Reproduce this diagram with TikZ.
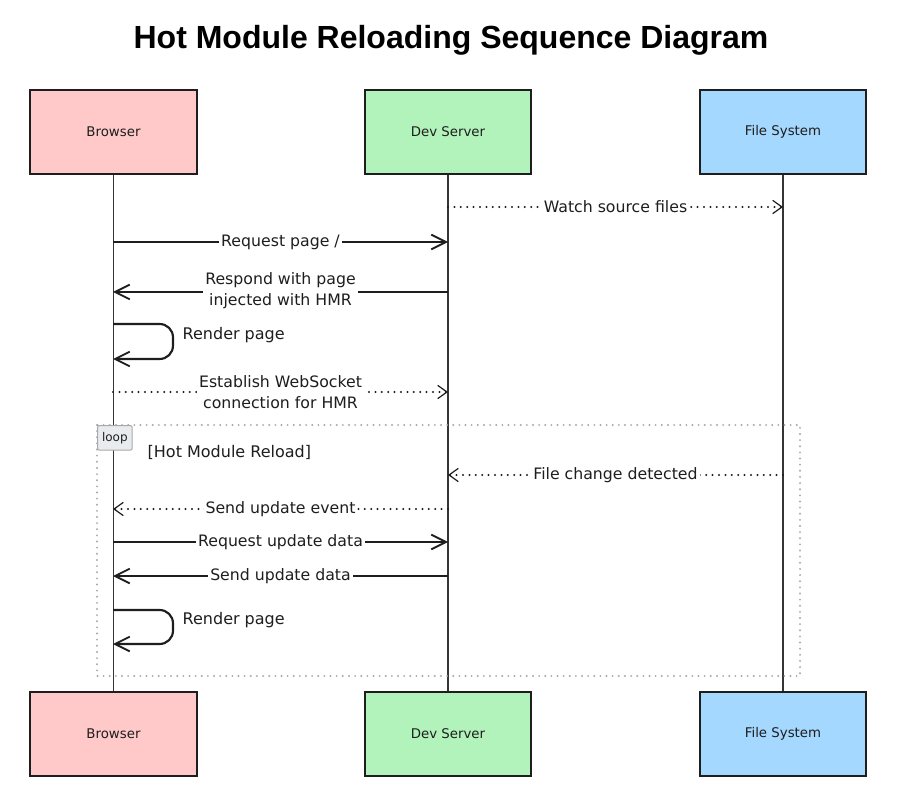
\documentclass[tikz,border=0pt]{standalone}
\usepackage{fontspec}
\setmainfont{DejaVu Sans}
\newfontfamily\titlefont{Liberation Sans}
\usetikzlibrary{arrows.meta}
\definecolor{pinkfill}{HTML}{FFC9C9}
\definecolor{greenfill}{HTML}{B2F2BB}
\definecolor{bluefill}{HTML}{A5D8FF}
\definecolor{inkc}{HTML}{1E1E1E}
\definecolor{loopgray}{HTML}{A9A9A9}
\definecolor{tagfill}{HTML}{E9ECEF}
\tikzset{
  actor/.style={draw=inkc, line width=1.4pt, minimum width=125pt, minimum height=63pt,
    font=\fontsize{10}{12}\selectfont, text=inkc},
  lifeline/.style={draw=inkc!90, line width=1.2pt},
  msgsolid/.style={draw=inkc, line width=1.6pt, -{Straight Barb[length=11pt,width=11pt,line width=1.4pt]}},
  msgdot/.style={draw=inkc, line width=1.7pt, line cap=round, dash pattern=on 0pt off 4.8pt,
    -{Straight Barb[length=7pt,width=10pt,line width=0.9pt]}},
  msglabel/.style={fill=white, inner sep=1.5pt, text=inkc, align=center,
    font=\fontsize{11.8}{15.5}\selectfont},
  selfloop/.style={draw=inkc, line width=1.6pt, rounded corners=10pt,
    -{Straight Barb[length=11pt,width=11pt,line width=1.4pt]}},
  looplabel/.style={text=inkc, font=\fontsize{12}{14}\selectfont, anchor=west},
  loopframe/.style={draw=loopgray, line width=1.6pt, line cap=round, dash pattern=on 0pt off 4.6pt},
  looptag/.style={draw=loopgray, fill=tagfill, line width=0.8pt, rounded corners=1.5pt,
    minimum width=26pt, minimum height=18.5pt, inner sep=1pt, anchor=north west,
    font=\fontsize{9}{10}\selectfont, text=inkc},
  titlestyle/.style={font=\titlefont\bfseries\fontsize{24}{28}\selectfont, text=black}
}
\begin{document}
\begin{tikzpicture}[x=0.75pt,y=-0.75pt]
\useasboundingbox[fill=white] (0,0) rectangle (906,805);
% title
\node[titlestyle] (title) at (451,40) {Hot Module Reloading Sequence Diagram};
% actors
\node[actor, fill=pinkfill]  (b1) at (113.5,132) {Browser};
\node[actor, fill=greenfill] (d1) at (448,132) {Dev Server};
\node[actor, fill=bluefill]  (f1) at (783,132) {File System};
\node[actor, fill=pinkfill]  (b2) at (113.5,734) {Browser};
\node[actor, fill=greenfill] (d2) at (448,734) {Dev Server};
\node[actor, fill=bluefill]  (f2) at (783,734) {File System};
% lifelines
\draw[lifeline] (b1.south) -- (b2.north);
\draw[lifeline] (d1.south) -- (d2.north);
\draw[lifeline] (f1.south) -- (f2.north);
% points on lifelines
\coordinate (dW) at (448,207);  \coordinate (fW) at (783,207);
\coordinate (bR) at (113,242);  \coordinate (dR) at (448,242);
\coordinate (dS) at (448,292);  \coordinate (bS) at (113,292);
\coordinate (bL1) at (113,324); \coordinate (bL2) at (113,359);
\coordinate (bE) at (113,392);  \coordinate (dE) at (448,392);
\coordinate (fC) at (783,475);  \coordinate (dC) at (448,475);
\coordinate (dU) at (448,509);  \coordinate (bU) at (113,509);
\coordinate (bQ) at (113,542);  \coordinate (dQ) at (448,542);
\coordinate (dD) at (448,576);  \coordinate (bD) at (113,576);
\coordinate (bM1) at (113,610); \coordinate (bM2) at (113,644);
% messages
\draw[msgdot] (dW) -- node[msglabel] (lW) {Watch source files} (fW);
\draw[msgsolid] (bR) -- node[msglabel] (lR) {Request page /} (dR);
\draw[msgsolid] (dS) -- node[msglabel, yshift=1pt] (lS) {Respond with page\\injected with HMR} (bS);
\draw[selfloop] (bL1) -- ++(60,0) |- (bL2);
\node[looplabel] (lL) at (178,335) {Render page};
\draw[msgdot] (bE) -- node[msglabel] (lE) {Establish WebSocket\\connection for HMR} (dE);
% loop frame
\draw[loopframe] (97,425) rectangle (800,676);
\node[looptag] (tag) at (97,425) {loop};
\node[looplabel] (lLoop) at (143,452) {[Hot Module Reload]};
\draw[msgdot] (fC) -- node[msglabel] (lC) {File change detected} (dC);
\draw[msgdot] (dU) -- node[msglabel] (lU) {Send update event} (bU);
\draw[msgsolid] (bQ) -- node[msglabel] (lQ) {Request update data} (dQ);
\draw[msgsolid] (dD) -- node[msglabel] (lD) {Send update data} (bD);
\draw[selfloop] (bM1) -- ++(60,0) |- (bM2);
\node[looplabel] (lM) at (178,620) {Render page};
\end{tikzpicture}
\end{document}
